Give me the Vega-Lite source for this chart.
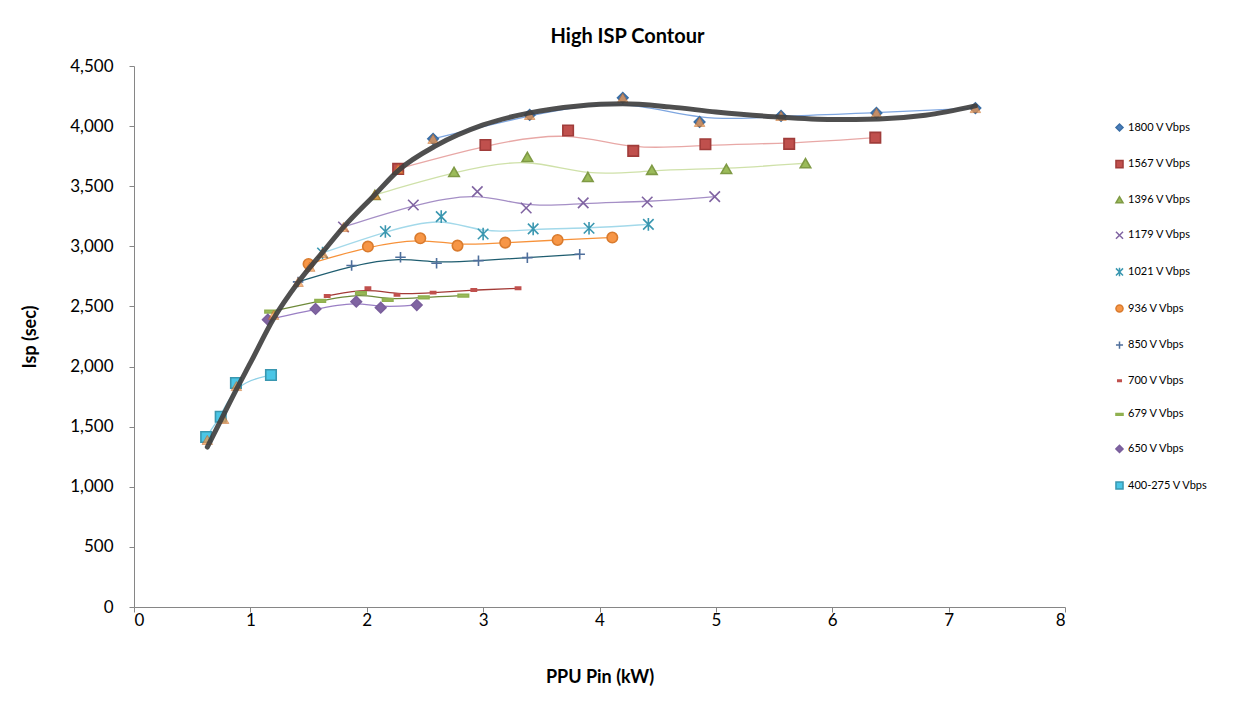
{
  "$schema": "https://vega.github.io/schema/vega-lite/v6.json",
  "autosize": {"type": "none"},
  "width": 931,
  "height": 541,
  "padding": {"left": 134, "top": 66, "right": 186, "bottom": 114},
  "background": "white",
  "title": {"text": "High ISP Contour", "font": "Lato", "fontSize": 20, "fontWeight": "bold", "color": "#000000", "dx": 28, "offset": 10},
  "config": {
    "view": {"stroke": null},
    "font": "Lato",
    "axis": {"grid": false, "domainColor": "#868686", "tickColor": "#868686", "labelColor": "#000000", "labelFont": "Lato", "labelFontSize": 17, "titleFont": "Lato", "titleFontSize": 18, "titleFontWeight": "bold", "titleColor": "#000000"},
    "legend": {"orient": "none", "legendX": 980, "legendY": 56, "title": null, "labelFont": "Lato", "labelFontSize": 11, "labelColor": "#000000", "symbolSize": 50, "symbolStrokeWidth": 1.5, "rowPadding": 21.6, "labelOffset": 3}
  },
  "datasets": {
    "pts": [
      {"series": "1800 V Vbps", "pin": 2.57, "isp": 3894},
      {"series": "1800 V Vbps", "pin": 3.40, "isp": 4093},
      {"series": "1800 V Vbps", "pin": 4.20, "isp": 4235},
      {"series": "1800 V Vbps", "pin": 4.86, "isp": 4035},
      {"series": "1800 V Vbps", "pin": 5.56, "isp": 4085},
      {"series": "1800 V Vbps", "pin": 6.38, "isp": 4110},
      {"series": "1800 V Vbps", "pin": 7.23, "isp": 4150},
      {"series": "1567 V Vbps", "pin": 2.27, "isp": 3644},
      {"series": "1567 V Vbps", "pin": 3.02, "isp": 3843},
      {"series": "1567 V Vbps", "pin": 3.73, "isp": 3963},
      {"series": "1567 V Vbps", "pin": 4.29, "isp": 3794},
      {"series": "1567 V Vbps", "pin": 4.91, "isp": 3849},
      {"series": "1567 V Vbps", "pin": 5.63, "isp": 3852},
      {"series": "1567 V Vbps", "pin": 6.37, "isp": 3904},
      {"series": "1396 V Vbps", "pin": 2.07, "isp": 3428},
      {"series": "1396 V Vbps", "pin": 2.75, "isp": 3619},
      {"series": "1396 V Vbps", "pin": 3.38, "isp": 3744},
      {"series": "1396 V Vbps", "pin": 3.90, "isp": 3577},
      {"series": "1396 V Vbps", "pin": 4.45, "isp": 3636},
      {"series": "1396 V Vbps", "pin": 5.09, "isp": 3644},
      {"series": "1396 V Vbps", "pin": 5.77, "isp": 3691},
      {"series": "1179 V Vbps", "pin": 1.80, "isp": 3161},
      {"series": "1179 V Vbps", "pin": 2.40, "isp": 3344},
      {"series": "1179 V Vbps", "pin": 2.95, "isp": 3455},
      {"series": "1179 V Vbps", "pin": 3.37, "isp": 3319},
      {"series": "1179 V Vbps", "pin": 3.86, "isp": 3361},
      {"series": "1179 V Vbps", "pin": 4.41, "isp": 3369},
      {"series": "1179 V Vbps", "pin": 4.99, "isp": 3413},
      {"series": "1021 V Vbps", "pin": 1.62, "isp": 2945},
      {"series": "1021 V Vbps", "pin": 2.16, "isp": 3123},
      {"series": "1021 V Vbps", "pin": 2.64, "isp": 3247},
      {"series": "1021 V Vbps", "pin": 3.00, "isp": 3103},
      {"series": "1021 V Vbps", "pin": 3.43, "isp": 3145},
      {"series": "1021 V Vbps", "pin": 3.91, "isp": 3150},
      {"series": "1021 V Vbps", "pin": 4.42, "isp": 3183},
      {"series": "936 V Vbps", "pin": 1.50, "isp": 2853},
      {"series": "936 V Vbps", "pin": 2.01, "isp": 2998},
      {"series": "936 V Vbps", "pin": 2.46, "isp": 3067},
      {"series": "936 V Vbps", "pin": 2.78, "isp": 3006},
      {"series": "936 V Vbps", "pin": 3.19, "isp": 3031},
      {"series": "936 V Vbps", "pin": 3.64, "isp": 3053},
      {"series": "936 V Vbps", "pin": 4.11, "isp": 3073},
      {"series": "850 V Vbps", "pin": 1.41, "isp": 2704},
      {"series": "850 V Vbps", "pin": 1.87, "isp": 2840},
      {"series": "850 V Vbps", "pin": 2.29, "isp": 2909},
      {"series": "850 V Vbps", "pin": 2.60, "isp": 2859},
      {"series": "850 V Vbps", "pin": 2.96, "isp": 2881},
      {"series": "850 V Vbps", "pin": 3.38, "isp": 2906},
      {"series": "850 V Vbps", "pin": 3.83, "isp": 2934},
      {"series": "700 V Vbps", "pin": 1.66, "isp": 2587},
      {"series": "700 V Vbps", "pin": 2.01, "isp": 2651},
      {"series": "700 V Vbps", "pin": 2.26, "isp": 2596},
      {"series": "700 V Vbps", "pin": 2.57, "isp": 2615},
      {"series": "700 V Vbps", "pin": 2.92, "isp": 2637},
      {"series": "700 V Vbps", "pin": 3.30, "isp": 2651},
      {"series": "679 V Vbps", "pin": 1.17, "isp": 2457},
      {"series": "679 V Vbps", "pin": 1.60, "isp": 2546},
      {"series": "679 V Vbps", "pin": 1.95, "isp": 2610},
      {"series": "679 V Vbps", "pin": 2.18, "isp": 2554},
      {"series": "679 V Vbps", "pin": 2.49, "isp": 2576},
      {"series": "679 V Vbps", "pin": 2.83, "isp": 2590},
      {"series": "650 V Vbps", "pin": 1.15, "isp": 2390},
      {"series": "650 V Vbps", "pin": 1.56, "isp": 2479},
      {"series": "650 V Vbps", "pin": 1.91, "isp": 2540},
      {"series": "650 V Vbps", "pin": 2.12, "isp": 2490},
      {"series": "650 V Vbps", "pin": 2.43, "isp": 2512},
      {"series": "400-275 V Vbps", "pin": 0.62, "isp": 1414},
      {"series": "400-275 V Vbps", "pin": 0.745, "isp": 1583},
      {"series": "400-275 V Vbps", "pin": 0.876, "isp": 1863},
      {"series": "400-275 V Vbps", "pin": 1.177, "isp": 1930}
    ],
    "tri": [
      {"pin": 0.63, "isp": 1390},
      {"pin": 0.77, "isp": 1564},
      {"pin": 0.88, "isp": 1838},
      {"pin": 1.20, "isp": 2430},
      {"pin": 1.41, "isp": 2704},
      {"pin": 1.51, "isp": 2830},
      {"pin": 1.62, "isp": 2945},
      {"pin": 1.80, "isp": 3161},
      {"pin": 2.07, "isp": 3428},
      {"pin": 2.27, "isp": 3644},
      {"pin": 2.57, "isp": 3894},
      {"pin": 3.40, "isp": 4093},
      {"pin": 4.20, "isp": 4235},
      {"pin": 4.86, "isp": 4035},
      {"pin": 5.56, "isp": 4085},
      {"pin": 6.38, "isp": 4110},
      {"pin": 7.23, "isp": 4150}
    ],
    "env": [
      {"pin": 0.63, "isp": 1330},
      {"pin": 0.75, "isp": 1560},
      {"pin": 0.88, "isp": 1810},
      {"pin": 1.0, "isp": 2030},
      {"pin": 1.2, "isp": 2400},
      {"pin": 1.41, "isp": 2700},
      {"pin": 1.62, "isp": 2950},
      {"pin": 1.8, "isp": 3160},
      {"pin": 2.07, "isp": 3430},
      {"pin": 2.27, "isp": 3630},
      {"pin": 2.6, "isp": 3840},
      {"pin": 3.0, "isp": 4010},
      {"pin": 3.4, "isp": 4110},
      {"pin": 3.8, "isp": 4165},
      {"pin": 4.2, "isp": 4185},
      {"pin": 4.6, "isp": 4160},
      {"pin": 5.0, "isp": 4118},
      {"pin": 5.5, "isp": 4078},
      {"pin": 6.0, "isp": 4055},
      {"pin": 6.4, "isp": 4060},
      {"pin": 6.8, "isp": 4090},
      {"pin": 7.23, "isp": 4168}
    ]
  },
  "layer": [
    {
      "data": {"name": "pts"},
      "mark": {"type": "line", "interpolate": "basis", "strokeWidth": 1.3},
      "encoding": {
        "x": {"field": "pin", "type": "quantitative", "scale": {"domain": [0, 8]}, "axis": {"title": "PPU Pin (kW)", "tickCount": 8, "format": "d", "tickSize": 5, "labelPadding": 0, "titlePadding": 40}},
        "y": {"field": "isp", "type": "quantitative", "scale": {"domain": [0, 4500]}, "axis": {"title": "Isp (sec)", "tickCount": 10, "format": ",d", "tickSize": 5, "labelPadding": 16, "titlePadding": 30}},
        "color": {"field": "series", "type": "nominal", "legend": null,
          "scale": {"range": ["#a3d9ea","#a58fc6","#cfe1a9","#e8a8a6","#7ea6e0","#8fd0e6","#9a7fc4","#6e8a3a","#a33a36","#1f5d70","#f7923a"]}},
        "detail": {"field": "series"},
        "order": {"field": "pin", "type": "quantitative"}
      }
    },
    {
      "data": {"name": "pts"},
      "mark": {"type": "point", "filled": true, "size": 110, "strokeWidth": 1.6, "opacity": 1},
      "encoding": {
        "x": {"field": "pin", "type": "quantitative"},
        "y": {"field": "isp", "type": "quantitative"},
        "fill": {"field": "series", "type": "nominal", "title": null,
          "scale": {"domain": ["1800 V Vbps","1567 V Vbps","1396 V Vbps","1179 V Vbps","1021 V Vbps","936 V Vbps","850 V Vbps","700 V Vbps","679 V Vbps","650 V Vbps","400-275 V Vbps"],
                    "range": ["#4a7ebb","#c0504d","#9bbb59","#8064a2","#4bacc6","#f79646","#4f81bd","#c0504d","#9bbb59","#8064a2","#4bc6e6"]}},
        "stroke": {"field": "series", "type": "nominal", "title": null,
          "scale": {"domain": ["1800 V Vbps","1567 V Vbps","1396 V Vbps","1179 V Vbps","1021 V Vbps","936 V Vbps","850 V Vbps","700 V Vbps","679 V Vbps","650 V Vbps","400-275 V Vbps"],
                    "range": ["#3a6ea5","#a03c3a","#7f9a45","#8064a2","#3a97b0","#d97b2e","#4f6f9c","#c0504d","#8fb04f","#7a5f9c","#3a97b0"]}},
        "shape": {"field": "series", "type": "nominal", "title": null,
          "scale": {"domain": ["1800 V Vbps","1567 V Vbps","1396 V Vbps","1179 V Vbps","1021 V Vbps","936 V Vbps","850 V Vbps","700 V Vbps","679 V Vbps","650 V Vbps","400-275 V Vbps"],
                    "range": ["diamond","square","triangle-up","M-1,-1L1,1M-1,1L1,-1","M-1,-1L1,1M-1,1L1,-1M0,-1.2L0,1.2","circle","M-1,0L1,0M0,-1L0,1","M-0.5,-0.22H0.5V0.22H-0.5Z","M-1,-0.25H1V0.25H-1Z","diamond","square"]}}
      }
    },
    {
      "data": {"name": "tri"},
      "mark": {"type": "point", "filled": true, "shape": "triangle-up", "size": 110, "fill": "#f79646", "stroke": "#c46a24", "strokeWidth": 0.8},
      "encoding": {
        "x": {"field": "pin", "type": "quantitative"},
        "y": {"field": "isp", "type": "quantitative"}
      }
    },
    {
      "data": {"name": "env"},
      "mark": {"type": "line", "interpolate": "monotone", "color": "#404040", "strokeWidth": 5, "strokeCap": "round", "opacity": 0.92},
      "encoding": {
        "x": {"field": "pin", "type": "quantitative"},
        "y": {"field": "isp", "type": "quantitative"}
      }
    }
  ]
}
